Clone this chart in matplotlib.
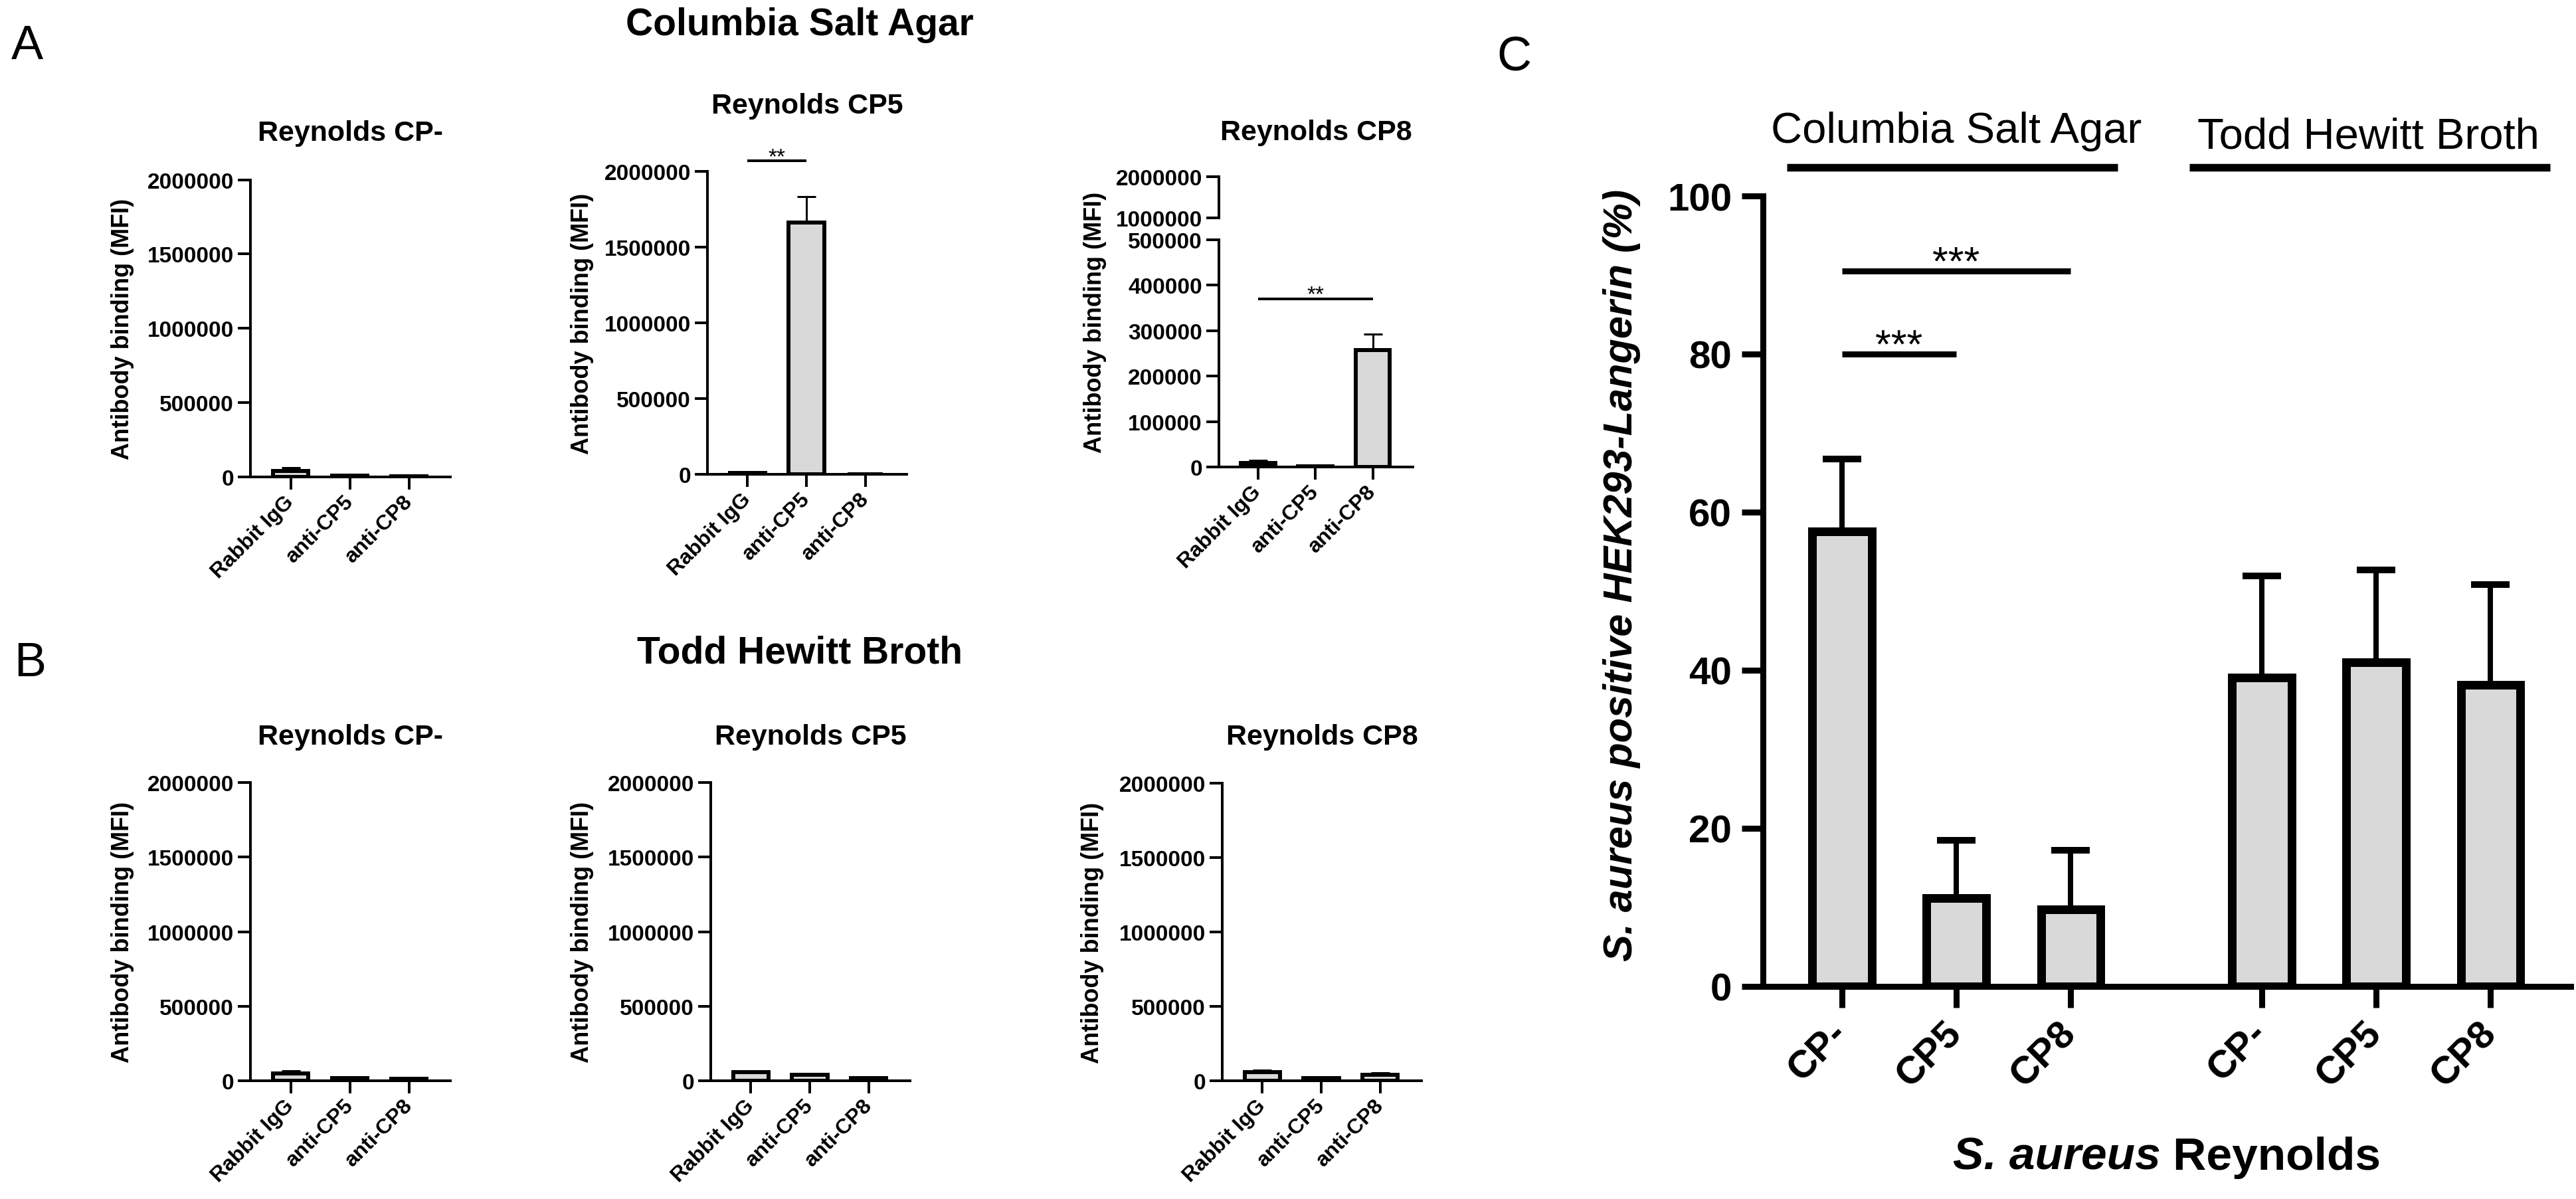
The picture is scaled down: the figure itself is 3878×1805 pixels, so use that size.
import matplotlib
matplotlib.use("Agg")
import matplotlib.pyplot as plt
import numpy as np

W, H, DPI = 3878, 1806, 100
PX = 72.0 / DPI  # points per pixel

plt.rcParams['font.family'] = ['Liberation Sans', 'DejaVu Sans']
plt.rcParams['font.weight'] = 'bold'

# ---------------- data ----------------
antibodies = ["Rabbit IgG", "anti-CP5", "anti-CP8"]
small_yticks = [0, 500000, 1000000, 1500000, 2000000]

# A: Columbia Salt Agar
csa_cpneg_mean = [38000, 6000, 4000]
csa_cpneg_sd = [24000, 3000, 2000]
csa_cp5_mean = [8400, 1664000, 2000]
csa_cp5_sd = [10600, 168000, 0]
csa_cp8_mean = [9000, 1500, 258000]
csa_cp8_sd = [6000, 0, 35000]
cp8_lower_ticks = [0, 100000, 200000, 300000, 400000, 500000]
cp8_upper_ticks = [1000000, 2000000]

# B: Todd Hewitt Broth
thb_cpneg_mean = [51000, 18000, 15000]
thb_cpneg_sd = [18000, 10000, 8000]
thb_cp5_mean = [57000, 39000, 18000]
thb_cp5_sd = [10000, 7000, 8000]
thb_cp8_mean = [57000, 18000, 39000]
thb_cp8_sd = [15000, 8000, 15000]

# C
strains = ["CP-", "CP5", "CP8"]
c_csa_mean = [57.6, 11.2, 9.75]
c_csa_sd = [9.1, 7.3, 7.5]
c_thb_mean = [39.1, 41.0, 38.15]
c_thb_sd = [12.8, 11.65, 12.65]
c_yticks = [0, 20, 40, 60, 80, 100]

FILL = '#d9d9d9'

fig = plt.figure(figsize=(W / DPI, H / DPI), dpi=DPI)


def rect(l, t, r, b):
    return [l / W, 1 - b / H, (r - l) / W, (b - t) / H]


def ftext(x, y, s, **kw):
    return fig.text(x / W, 1 - y / H, s, **kw)


def style(ax, lw, tlen, lsize, pad):
    for s in ['top', 'right']:
        ax.spines[s].set_visible(False)
    for s in ['left', 'bottom']:
        ax.spines[s].set_linewidth(lw)
    ax.tick_params(axis='both', length=tlen, width=lw, labelsize=lsize,
                   pad=pad, direction='out', color='black')


def small_panel(box, means, sds, title, title_base, ylab_x, ylim=(0, 2000000),
                yticks=small_yticks):
    l, t, r, b = box
    ax = fig.add_axes(rect(l, t, r, b))
    x = np.arange(len(antibodies))
    ax.errorbar(x, means, yerr=[np.zeros(len(x)), sds], fmt='none',
                ecolor='black', elinewidth=3 * PX, capsize=14 * PX,
                capthick=3 * PX, zorder=1)
    ax.bar(x, means, width=0.6, color=FILL, edgecolor='black',
           linewidth=6 * PX, zorder=2, joinstyle='miter')
    ax.set_xlim(-0.68, 2.7)
    ax.set_ylim(*ylim)
    ax.set_yticks(yticks)
    ax.set_yticklabels([str(v) for v in yticks])
    ax.set_xticks(x)
    ax.set_xticklabels(antibodies, rotation=45, ha='right', va='center',
                       rotation_mode='anchor')
    style(ax, 4 * PX, 19 * PX, 24, 6 * PX)
    ax.tick_params(axis='x', labelsize=23, pad=14 * PX)
    if title:
        ftext((l + r) / 2, title_base, title, ha='center', va='baseline',
              fontsize=31, fontweight='bold')
    ftext(ylab_x, (t + b) / 2, "Antibody binding (MFI)", rotation=90,
          ha='center', va='center', fontsize=26, fontweight='bold')
    return ax


# ---------------- panel A ----------------
ftext(17, 89, "A", fontsize=52, fontweight='normal', va='baseline')
ftext(1204, 53, "Columbia Salt Agar", ha='center', va='baseline',
      fontsize=41, fontweight='bold')

small_panel((377, 271.5, 678, 718.7), csa_cpneg_mean, csa_cpneg_sd,
            "Reynolds CP-", 212, 184)
axA2 = small_panel((1065, 259, 1365, 715), csa_cp5_mean, csa_cp5_sd,
                   "Reynolds CP5", 171, 877)
ytop = axA2.get_ylim()[1]
sig_a2 = ytop * 1.035
axA2.plot([0, 1], [sig_a2, sig_a2], color='black',
          lw=4 * PX, clip_on=False, solid_capstyle='butt')
axA2.text(0.5, sig_a2 - 0.007 * ytop, "**", ha='center', va='baseline',
          fontsize=24, fontweight='normal', clip_on=False)

# A3 broken axis
axA3 = fig.add_axes(rect(1835, 362, 2127, 704))
x = np.arange(len(antibodies))
axA3.errorbar(x, csa_cp8_mean, yerr=[np.zeros(3), csa_cp8_sd], fmt='none',
              ecolor='black', elinewidth=3 * PX, capsize=14 * PX,
              capthick=3 * PX, zorder=1)
axA3.bar(x, csa_cp8_mean, width=0.6, color=FILL, edgecolor='black',
         linewidth=6 * PX, zorder=2, joinstyle='miter')
axA3.set_xlim(-0.68, 2.7)
axA3.set_ylim(0, 500000)
axA3.set_yticks(cp8_lower_ticks)
axA3.set_yticklabels([str(v) for v in cp8_lower_ticks])
axA3.set_xticks(x)
axA3.set_xticklabels(antibodies, rotation=45, ha='right', va='center',
                     rotation_mode='anchor')
style(axA3, 4 * PX, 19 * PX, 24, 6 * PX)
axA3.tick_params(axis='x', labelsize=23, pad=14 * PX)
sig_a3 = 370000
axA3.plot([0, 2], [sig_a3, sig_a3], color='black', lw=4 * PX,
          solid_capstyle='butt')
axA3.text(1, sig_a3 - 3000, "**", ha='center', va='baseline', fontsize=24,
          fontweight='normal')

axA3u = fig.add_axes(rect(1835, 267, 2127, 329))
axA3u.set_xlim(-0.68, 2.7)
axA3u.set_ylim(1000000, 2000000)
axA3u.set_yticks(cp8_upper_ticks)
axA3u.set_yticklabels([str(v) for v in cp8_upper_ticks])
axA3u.set_xticks([])
style(axA3u, 4 * PX, 19 * PX, 24, 6 * PX)
axA3u.spines['bottom'].set_visible(False)
axA3u.patch.set_alpha(0)
ftext(1981, 211, "Reynolds CP8", ha='center', va='baseline', fontsize=31,
      fontweight='bold')
ftext(1648, (267 + 704) / 2, "Antibody binding (MFI)", rotation=90,
      ha='center', va='center', fontsize=26, fontweight='bold')

# ---------------- panel B ----------------
ftext(21, 1018, "B", fontsize=52, fontweight='normal', va='baseline')
ftext(1204, 999, "Todd Hewitt Broth", ha='center', va='baseline',
      fontsize=41, fontweight='bold')
small_panel((377, 1179, 678, 1628), thb_cpneg_mean, thb_cpneg_sd,
            "Reynolds CP-", 1121, 184)
small_panel((1070, 1179, 1370, 1628), thb_cp5_mean, thb_cp5_sd,
            "Reynolds CP5", 1121, 877)
small_panel((1840, 1180, 2140, 1628), thb_cp8_mean, thb_cp8_sd,
            "Reynolds CP8", 1121, 1645)

# ---------------- panel C ----------------
ftext(2253, 106, "C", fontsize=52, fontweight='normal', va='baseline')
axC = fig.add_axes(rect(2654, 296, 3870, 1486))
pos_csa = np.array([0.0, 1.0, 2.0])
pos_thb = pos_csa + 3.67
for pos, m, sd in [(pos_csa, c_csa_mean, c_csa_sd), (pos_thb, c_thb_mean, c_thb_sd)]:
    axC.errorbar(pos, m, yerr=[np.zeros(3), sd], fmt='none', ecolor='black',
                 elinewidth=8 * PX, capsize=29 * PX, capthick=10 * PX, zorder=1)
    axC.bar(pos, m, width=0.52, color=FILL, edgecolor='black',
            linewidth=13 * PX, zorder=2, joinstyle='miter')
axC.set_xlim(-0.69, 6.37)
axC.set_ylim(0, 100)
axC.set_yticks(c_yticks)
axC.set_yticklabels([str(v) for v in c_yticks])
allpos = np.concatenate([pos_csa, pos_thb])
axC.set_xticks(allpos)
axC.set_xticklabels(strains + strains, rotation=45, ha='right', va='center',
                    rotation_mode='anchor')
style(axC, 9 * PX, 32 * PX, 42, 15 * PX)
axC.tick_params(axis='x', pad=30 * PX)

# significance
for (x0s, x1s, ys) in [(0, 1, 80.0), (0, 2, 90.5)]:
    axC.plot([x0s, x1s], [ys, ys], color='black', lw=9 * PX,
             solid_capstyle='butt')
    axC.text((x0s + x1s) / 2, ys - 0.4, "***", ha='center', va='baseline',
             fontsize=44, fontweight='normal')

# group headers
axC.plot([-0.48, 2.41], [103.6, 103.6], color='black', lw=11.5 * PX,
         clip_on=False, solid_capstyle='butt')
axC.plot([3.04, 6.19], [103.6, 103.6], color='black', lw=11.5 * PX,
         clip_on=False, solid_capstyle='butt')
axC.text(1.0, 106.8, "Columbia Salt Agar", ha='center', va='baseline',
         fontsize=47, fontweight='normal', clip_on=False)
axC.text(4.6, 106.1, "Todd Hewitt Broth", ha='center', va='baseline',
         fontsize=47, fontweight='normal', clip_on=False)

ftext(2441, 866, "S. aureus positive HEK293-Langerin (%)", rotation=90,
      ha='center', va='center', fontsize=44, fontweight='bold', style='italic')

# x label with mixed styles
fig.canvas.draw()
r = fig.canvas.get_renderer()
t1 = ftext(0, 1761, "S. aureus", ha='left', va='baseline', fontsize=50,
           fontweight='bold', style='italic')
t2 = ftext(0, 1761, " Reynolds", ha='left', va='baseline', fontsize=50,
           fontweight='bold')
w1 = t1.get_window_extent(r).width
w2 = t2.get_window_extent(r).width
x0 = 3262 - (w1 + w2) / 2
t1.set_position((x0 / W, 1 - 1761 / H))
t2.set_position(((x0 + w1) / W, 1 - 1761 / H))

fig.savefig("out.png", dpi=DPI)
